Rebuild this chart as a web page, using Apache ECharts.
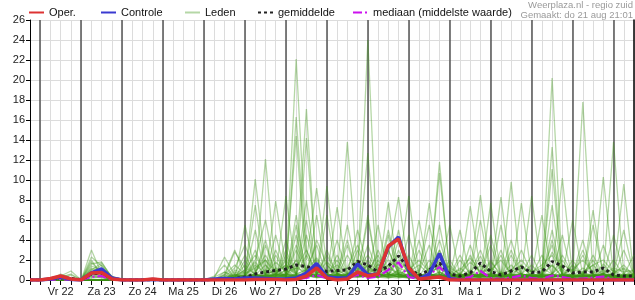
<!DOCTYPE html>
<html><head><meta charset="utf-8">
<script src="https://cdn.jsdelivr.net/npm/echarts@6/dist/echarts.min.js"></script>
<style>html,body{margin:0;padding:0;background:#fff}#c{width:635px;height:300px}</style>
</head><body><div id="c"></div>
<script>
// Day labels (placed at noon of each day); x steps are 6 hours, starting Thu 21 Aug 18:00
const dayLabels = ['Vr 22','Za 23','Zo 24','Ma 25','Di 26','Wo 27','Do 28','Vr 29','Za 30','Zo 31','Ma 1','Di 2','Wo 3','Do 4'];
const yTicks = [0,2,4,6,8,10,12,14,16,18,20,22,24,26];

const oper = [0, 0,0.15,0.4,0.1, 0,0.7,0.75,0.1, 0,0,0,0.1, 0,0,0,0, 0,0,0,0, 0,0.05,0.05,0.05, 0,0.05,0.4,1.2, 0.2,0,0.1,0.8, 0.4,0.6,3.4,4.1, 1.2,0.1,0.2,0.3, 0,0,0,0, 0,0,0,0, 0,0,0,0, 0,0,0,0, 0,0,0];
const controle = [0, 0,0.1,0.3,0.05, 0,0.7,1.1,0.2, 0,0,0,0.05, 0,0,0,0, 0,0.1,0.15,0.1, 0.2,0.2,0.15,0.1, 0.1,0.2,0.7,1.65, 0.3,0.2,0.2,1.6, 0.5,0.6,3.3,4.3, 1.0,0.1,0.6,2.65, 0.1,0,0,0, 0,0,0,0, 0,0,0,0, 0,0,0,0, 0,0,0];
const gemiddelde = [0, 0,0.1,0.25,0.15, 0.05,0.6,0.7,0.2, 0.02,0,0,0, 0,0,0,0, 0,0.03,0.1,0.15, 0.3,0.6,0.8,0.95, 1.1,1.5,1.35,1.1, 0.85,0.95,1.0,1.85, 1.5,0.8,1.4,2.4, 1.2,0.45,1.0,1.7, 0.6,0.4,0.7,1.7, 0.85,0.5,0.9,1.3, 0.75,0.8,1.85,1.4, 0.7,0.8,0.8,1.2, 0.5,0.4,0.4];
const mediaan = [0, 0,0,0.1,0, 0,0.3,0.4,0, 0,0,0,0, 0,0,0,0, 0,0,0,0, 0.05,0.1,0.1,0.1, 0.1,0.1,0.2,0.5, 0.15,0.1,0.2,0.5, 0.2,0.35,1.0,1.75, 0.3,0.1,0.5,1.3, 0.2,0.1,0.3,0.9, 0.2,0.1,0.25,0.45, 0.2,0.1,0.45,0.3, 0.1,0.15,0.25,0.35, 0.1,0.1,0.05];

const m01 = [0, 0,0,0,0, 0,3.0,0.6,0, 0,0,0,0, 0,0,0,0, 0,0,0.3,1.2, 3.5,0.8,2.0,0.4, 1.0,22.1,3.0,0.5, 0.2,1.0,0.4,2.0, 0.8,0.2,1.5,0.6, 0.3,0,1.2,3.0, 0.5,0,0.6,2.4, 0.2,0,0.8,1.5, 0.3,0.4,2.8,1.0, 0.2,0.5,0.3,1.6, 0.4,0.2,0];
const m02 = [0, 0,0.1,0.6,0.2, 0,2.3,1.4,0.1, 0,0,0,0, 0,0,0,0, 0,0.2,2.3,0.5, 0.3,10.1,1.5,0.2, 0.6,16.3,2.0,9.2, 1.5,0.3,0.2,0.6, 24.0,1.0,0.4,2.0, 0.8,0.2,0,0.5, 0.3,1.2,0.4,0.2, 1.8,0.6,0.2,0.4, 0.2,0.6,1.5,0.3, 0.4,1.2,0.6,0.2, 0.8,0.3,0.1];
const m03 = [0, 0,0,0,0, 0,1.6,1.8,0.2, 0,0,0,0, 0,0,0,0, 0,0,0.4,2.8, 1.2,0.6,12.1,0.8, 0.4,2.0,17.1,0.6, 0.3,0.5,1.2,0.4, 0.6,0.2,2.4,8.3, 1.0,0.2,0.6,1.4, 0.2,0.6,7.4,1.0, 0.3,0.8,0.2,0.6, 0.4,0.2,20.2,0.8, 0.3,0.6,1.5,0.4, 0.6,1.1,0.3];
const m04 = [0, 0,0,0.4,0.9, 0,1.2,0.9,0, 0,0,0,0, 0,0,0,0, 0,0,0,0.6, 0.4,1.8,0.5,7.9, 1.2,14.4,0.8,0.3, 9.4,0.6,0.2,0.8, 0.4,1.6,0.6,0.3, 0.2,0.5,7.7,0.6, 0.1,0.4,0.8,8.5, 0.6,0.3,0.5,0.2, 1.0,0.5,13.3,0.4, 0.2,0.7,0.3,0.5, 13.8,0.6,0.2];
const m05 = [0, 0,0,0,0, 0.1,0.8,1.5,0.3, 0,0,0,0, 0,0,0,0, 0,0.3,0.8,0.2, 0.6,0.3,1.0,0.5, 8.4,0.5,14.2,1.0, 0.4,7.3,0.6,1.5, 12.7,0.5,0.3,1.0, 8.4,0.6,0.2,11.8, 0.5,0.2,0.4,0.3, 7.7,0.4,0.6,0.3, 0.2,0.3,0.6,10.2, 0.5,0.2,0.6,0.3, 0.4,0.2,0.6];
const m06 = [0, 0,0,0,0, 0,2.0,0.5,0, 0,0,0,0, 0,0,0,0, 0,0,0,0.3, 0.8,0.4,0.3,1.2, 0.5,3.0,0.6,0.4, 0.3,0.2,13.8,0.6, 1.5,0.4,7.8,0.5, 0.3,0.2,0.4,10.7, 1.0,0.3,0.2,0.6, 0.4,8.3,0.2,0.5, 0.3,0.6,11.1,0.4, 0.2,17.8,0.4,0.6, 0.3,0.2,0.5];
const m07 = [0, 0,0,0,0, 0,0.5,1.2,0.4, 0,0,0,0, 0,0,0,0, 0,0,0.2,0.4, 0.3,0.5,0.2,0.6, 0.4,1.2,0.8,0.3, 0.6,0.4,0.3,0.5, 0.3,0.8,0.2,0.4, 0.2,0.6,0.3,0.8, 0.2,0.3,0.5,0.2, 0.4,0.2,9.8,0.3, 0.5,0.4,0.2,0.6, 0.3,0.4,0.2,10.3, 0.5,9.6,0.3];
const m08 = [0, 0,0.2,0.5,0.1, 0,0.9,0.6,0.1, 0,0,0,0, 0,0,0,0, 0,0.4,1.5,0.2, 5.5,0.8,2.5,0.6, 1.5,0.4,4.5,0.8, 0.3,2.5,0.6,5.0, 1.2,0.5,3.0,0.6, 0.4,1.0,5.5,0.8, 0.3,2.0,0.6,0.4, 4.5,0.5,0.3,1.5, 0.4,0.8,3.5,0.5, 0.3,0.6,2.0,0.4, 0.3,3.0,0.5];
const m09 = [0, 0,0,0,0, 0,0.4,0.7,0, 0,0,0,0, 0,0,0,0, 0,0,0.6,3.0, 0.5,7.5,0.8,0.3, 2.5,0.6,1.0,3.5, 0.4,0.8,4.0,0.3, 6.0,0.4,0.8,0.5, 2.5,0.3,0.6,4.0, 0.5,0.3,3.5,0.4, 0.6,2.5,0.3,7.7, 0.4,0.3,0.6,2.0, 0.5,4.0,0.3,0.6, 0.3,0.5,2.5];
const m10 = [0, 0,0,0,0, 0,1.4,1.0,0.2, 0,0,0,0, 0,0,0,0, 0,0,0,0.8, 0.5,2.0,6.0,1.0, 0.4,5.5,0.8,0.3, 3.0,0.5,0.4,1.5, 0.5,5.5,0.4,1.0, 0.3,4.0,0.6,0.3, 2.0,0.4,0.3,0.6, 0.3,0.6,4.0,0.5, 8.4,0.5,0.3,1.2, 0.4,0.3,5.5,0.6, 1.0,0.4,0.3];
const m11 = [0, 0,0,0,0, 0,0.3,0.4,0, 0,0,0,0, 0,0,0,0, 0,0,0,0, 0.4,0.3,0.5,3.0, 0.6,0.4,8.0,0.5, 0.3,1.0,0.5,0.4, 3.5,0.6,0.3,0.8, 0.5,0.3,2.0,0.6, 0.4,5.0,0.3,0.6, 0.3,0.4,0.6,3.0, 0.6,0.3,5.0,0.4, 0.3,0.8,0.4,0.3, 4.5,0.6,0.3];
const m12 = [0, 0,0,0,0, 0,0.6,0.3,0, 0,0,0,0, 0,0,0,0, 0,0,0.3,0.2, 2.0,0.4,0.3,0.6, 0.3,6.5,0.4,2.0, 0.5,0.3,2.5,0.6, 0.4,3.0,0.5,0.3, 0.6,0.3,0.4,5.5, 0.3,0.5,0.4,0.3, 0.6,0.3,2.5,0.4, 0.3,6.5,0.4,0.3, 2.0,0.4,0.3,0.5, 0.3,0.4,0.6];
const m13 = [0, 0,0,0,0, 0,0,0,0, 0,0,0,0, 0,0,0,0, 0,0,0,0.4, 0.3,0.6,4.0,0.4, 1.0,0.3,0.5,0.4, 6.5,0.4,0.3,0.6, 0.4,0.3,1.0,5.0, 0.3,0.6,0.2,0.4, 0.3,0.2,0.6,0.4, 0.3,5.5,0.4,0.3, 0.5,0.3,0.4,0.3, 0.6,0.3,7.0,0.4, 0.3,0.2,0.4];
const m14 = [0, 0,0,0.3,0.6, 0,0.7,0.5,0, 0,0,0,0, 0,0,0,0, 0,0,0,0, 0.2,0.3,0.4,0.2, 0.3,0.4,0.5,0.2, 0.4,0.3,0.6,0.8, 0.5,0.3,0.4,0.6, 0.2,0.3,0.5,0.4, 0.2,0.3,0.2,0.4, 0.3,0.2,0.5,0.3, 0.2,0.4,0.3,0.5, 0.2,0.3,0.4,0.3, 0.2,0.3,0.2];
const m15 = [0, 0,0,0,0, 0,0.2,0.3,0, 0,0,0,0, 0,0,0,0, 0,0,0.5,0.3, 1.0,0.4,0.3,2.5, 0.5,0.3,0.4,6.5, 0.3,0.5,0.4,0.3, 0.4,2.0,0.6,0.3, 0.5,0.4,0.3,2.5, 0.4,0.6,0.3,0.4, 2.0,0.3,0.4,0.3, 0.4,0.3,0.5,4.5, 0.3,0.4,0.3,0.6, 0.4,0.3,0.5];
const m16 = [0, 0,0,0,0, 0,0,0,0, 0,0,0,0, 0,0,0,0, 0,0,0,0, 0,0.3,0.5,0.3, 4.0,0.5,0.3,0.6, 0.3,0.6,0.4,3.0, 0.6,0.3,4.5,0.4, 0.3,0.6,0.3,0.4, 0.3,0.4,0.6,3.0, 0.4,0.3,0.2,0.4, 0.3,0.5,0.3,0.4, 0.5,0.3,0.4,0.2, 0.3,0.4,0.3];
const m17 = [0, 0,0,0,0, 0,1.0,1.7,0.3, 0,0,0,0, 0,0,0,0, 0,0,0,0.2, 0.3,0.5,0.2,0.4, 0.3,0.6,2.5,0.4, 0.5,0.3,0.6,0.4, 0.3,0.5,0.4,2.5, 0.6,0.3,0.4,0.5, 0.3,0.5,0.4,1.5, 0.3,0.4,0.2,0.5, 2.5,0.3,0.4,0.3, 0.4,0.3,0.5,0.4, 0.3,0.5,0.3];
const m18 = [0, 0,0,0,0, 0,0,0,0, 0,0,0,0, 0,0,0,0, 0,0,0.2,0, 0.2,0.4,0.3,0.5, 0.3,0.2,0.4,0.3, 0.2,0.5,0.3,0.4, 0.4,0.3,0.2,0.6, 0.3,0.2,0.5,0.3, 0.2,0.3,0.4,0.2, 0.3,0.5,0.3,0.2, 0.4,0.2,0.3,0.5, 0.3,0.2,0.4,0.3, 0.2,0.3,0.2];
const m19 = [0, 0,0,0,0, 0,0.5,0.8,0.1, 0,0,0,0, 0,0,0,0, 0,0,0,0.5, 0.4,0.3,0.6,0.3, 0.5,1.5,0.4,0.3, 0.4,0.3,0.5,1.2, 0.3,0.4,0.6,0.3, 1.5,0.4,0.3,0.5, 0.3,0.4,1.0,0.3, 0.4,0.3,0.5,0.6, 0.3,0.4,1.5,0.3, 0.4,0.5,0.3,1.0, 0.3,0.4,0.3];
const m20 = [0, 0,0,0,0, 0,0,0,0, 0,0,0,0, 0,0,0,0, 0,0,0,0, 0.5,0.3,0.4,0.2, 0.4,0.3,0.6,0.5, 0.3,0.4,0.3,0.5, 0.6,0.4,0.3,0.2, 0.4,0.3,0.5,0.6, 0.3,0.2,0.3,0.5, 0.4,0.3,0.4,0.3, 0.5,0.3,0.4,0.6, 0.3,0.4,0.3,0.5, 0.4,0.3,0.4];
const m21 = [0, 0,0,0,0, 0,0.8,0.4,0, 0,0,0,0, 0,0,0,0, 0,0,0.5,1.5, 0.6,3.0,0.5,1.0, 0.4,2.0,0.6,4.0, 1.5,0.5,3.5,0.4, 2.0,0.6,5.0,0.8, 0.4,3.0,0.5,1.5, 0.6,0.3,2.5,0.5, 3.5,0.4,1.0,0.6, 0.4,2.5,0.6,0.3, 1.5,0.5,0.4,3.5, 0.6,1.5,0.4];
const m22 = [0, 0,0,0,0, 0,0,0,0, 0,0,0,0, 0,0,0,0, 0,0,0,0.3, 1.5,0.5,3.5,0.6, 2.0,0.5,0.8,1.5, 0.4,4.0,0.6,0.5, 0.8,2.5,0.4,3.0, 0.5,0.8,3.5,0.4, 1.5,0.4,0.6,0.5, 0.5,3.0,0.4,0.6, 1.5,0.4,4.0,0.5, 0.5,2.5,0.4,0.6, 2.0,0.5,0.3];
const m23 = [0, 0,0,0,0, 0,1.8,0.6,0, 0,0,0,0, 0,0,0,0, 0,0,0.3,0.5, 0.4,1.5,0.6,4.5, 0.5,3.5,1.0,0.5, 2.5,0.6,0.4,2.0, 0.5,0.4,3.0,0.6, 4.5,0.5,0.4,0.8, 0.4,2.5,0.5,0.3, 0.6,0.4,3.0,0.5, 0.4,0.6,0.5,2.5, 0.6,3.0,0.5,0.4, 0.5,0.4,1.0];
const m24 = [0, 0,0,0,0, 0,0,0,0, 0,0,0,0, 0,0,0,0, 0,0,0,0, 0.3,0.6,0.4,0.5, 3.0,0.6,0.4,0.8, 0.5,2.0,0.4,0.6, 0.4,0.6,1.5,0.4, 0.6,0.4,0.3,3.0, 0.5,0.4,0.6,0.4, 0.3,0.5,1.5,0.4, 0.5,0.4,0.3,0.6, 0.4,0.3,2.5,0.5, 0.4,0.6,0.5];
const m25 = [0, 0,0.1,0.3,0.5, 0,0,0,0, 0,0,0,0, 0,0,0,0, 0,0,0,0.2, 0.3,0.5,1.5,0.4, 0.6,0.4,0.5,0.3, 0.4,0.6,0.3,0.5, 1.5,0.4,0.6,0.3, 0.4,0.5,0.6,0.4, 0.3,0.5,0.4,0.6, 0.4,0.6,0.3,0.4, 0.6,0.3,0.5,0.4, 0.3,0.5,0.4,0.6, 0.3,0.4,0.5];
const m26 = [0, 0,0,0,0, 0,0.4,0.2,0, 0,0,0,0, 0,0,0,0, 0,0,0,0, 0.4,0.3,0.5,0.4, 0.3,0.5,0.4,0.6, 0.5,0.3,0.4,0.3, 0.4,0.6,0.3,0.4, 0.3,0.4,0.5,0.3, 0.4,0.3,0.5,0.4, 0.3,0.4,0.3,0.5, 0.4,0.5,0.3,0.4, 0.5,0.3,0.4,0.3, 0.4,0.3,0.4];
const m27 = [0, 0,0,0,0, 0,0,0,0, 0,0,0,0, 0,0,0,0, 0,0,0,0.6, 2.5,0.5,0.4,0.6, 0.5,4.5,0.6,0.4, 0.6,0.4,5.5,0.5, 0.4,0.6,0.5,4.0, 0.6,0.5,0.4,0.6, 5.5,0.4,0.6,0.5, 0.4,0.6,0.5,0.4, 0.6,0.4,7.5,0.6, 0.4,0.6,0.5,0.4, 0.6,5.0,0.4];
const m28 = [0, 0,0,0,0, 0,0.6,1.0,0.2, 0,0,0,0, 0,0,0,0, 0,0,0,0, 0.3,0.5,0.4,0.6, 0.5,0.4,0.6,0.5, 0.4,0.6,0.5,0.4, 0.6,0.4,0.5,0.6, 0.4,0.5,0.6,0.4, 0.5,0.6,0.4,0.5, 0.6,0.4,0.5,0.6, 0.4,0.5,0.6,0.4, 0.5,0.4,0.6,0.5, 0.4,0.5,0.6];
const m29 = [0, 0,0,0,0, 0,0,0,0, 0,0,0,0, 0,0,0,0, 0,0,0,0.3, 0.4,5.0,0.5,0.3, 0.6,0.5,6.0,0.4, 0.5,0.4,0.6,0.5, 6.5,0.4,0.6,0.5, 0.4,6.0,0.5,0.4, 0.6,0.5,0.4,6.0, 0.5,0.4,0.6,0.5, 0.4,0.6,0.5,0.4, 6.0,0.5,0.4,0.6, 0.5,0.4,0.6];
const m30 = [0, 0,0,0,0, 0,0,0,0, 0,0,0,0, 0,0,0,0, 0,0,0,0, 0.2,0.4,0.3,0.5, 0.4,0.3,0.5,0.4, 0.3,0.5,0.4,0.3, 0.5,0.3,0.4,0.5, 0.3,0.4,0.3,0.5, 0.4,0.3,0.5,0.3, 0.5,0.3,0.4,0.3, 0.3,0.4,0.5,0.3, 0.4,0.5,0.3,0.4, 0.3,0.5,0.4];
const m31 = [0, 0,0,0,0, 0,0,0,0, 0,0,0,0, 0,0,0,0, 0,0,0.8,0.4, 1.0,2.5,0.6,1.8, 0.8,1.2,3.0,0.6, 1.8,0.8,1.2,3.5, 1.0,0.6,2.0,1.2, 0.8,1.5,0.6,2.0, 1.2,0.6,1.8,0.8, 1.0,2.0,0.6,1.2, 0.8,1.5,2.5,0.6, 1.0,0.8,1.5,2.0, 0.8,1.2,0.6];
const m32 = [0, 0,0,0,0, 0,1.1,0.7,0, 0,0,0,0, 0,0,0,0, 0,0,0,1.0, 0.6,1.2,2.0,0.8, 1.5,0.6,1.0,2.2, 0.8,1.5,0.6,1.0, 2.5,0.8,1.2,0.6, 1.0,2.0,0.8,1.2, 0.6,1.0,2.2,0.8, 1.2,0.6,1.0,2.0, 0.8,1.2,0.6,1.5, 1.0,2.0,0.8,0.6, 1.2,0.8,1.0];
const leden = [m01,m02,m03,m04,m05,m06,m07,m08,m09,m10,m11,m12,m13,m14,m15,m16,m17,m18,m19,m20,m21,m22,m23,m24,m25,m26,m27,m28,m29,m30,m31,m32];

const N = oper.length;
const steps = Array.from({length: N}, (_, i) => String(i));
const isNoon = i => i % 4 === 3 && (i - 3) / 4 < dayLabels.length;
const FONT = '"Liberation Sans", Arial, sans-serif';
const MEMBER = 'rgba(60,150,20,0.38)';

const series = [];
leden.forEach(arr => series.push({
  name: 'Leden', type: 'line', data: arr, symbol: 'none', silent: true,
  lineStyle: { color: MEMBER, width: 1.3 }, itemStyle: { color: MEMBER },
  z: 2
}));
series.push({ name: 'mediaan (middelste waarde)', type: 'line', data: mediaan, symbol: 'none',
  lineStyle: { color: '#cc11ee', width: 2.2, type: [9, 3, 2, 3] }, itemStyle: { color: '#cc11ee' }, z: 3 });
series.push({ name: 'gemiddelde', type: 'line', data: gemiddelde, symbol: 'none',
  lineStyle: { color: '#222', width: 3, type: [3, 3] }, itemStyle: { color: '#222' }, z: 4 });
series.push({ name: 'Controle', type: 'line', data: controle, symbol: 'none',
  lineStyle: { color: '#3a3ad0', width: 3.5 }, itemStyle: { color: '#3a3ad0' }, z: 5 });
series.push({ name: 'Oper.', type: 'line', data: oper, symbol: 'none',
  lineStyle: { color: '#dd3333', width: 3.5 }, itemStyle: { color: '#dd3333' }, z: 6 });

function lg(name, left) {
  return { data: [name], left: left, top: 7, itemWidth: 15, itemHeight: 8, itemGap: 0, padding: 0,
    selectedMode: false, itemStyle: { opacity: 0 },
    textStyle: { fontSize: 11, color: '#111', fontFamily: FONT } };
}

const chart = echarts.init(document.getElementById('c'), null, { renderer: 'canvas' });
chart.setOption({
  animation: false,
  backgroundColor: '#fff',
  textStyle: { fontFamily: FONT },
  legend: [lg('Oper.', 28), lg('Controle', 100), lg('Leden', 184), lg('gemiddelde', 257), lg('mediaan (middelste waarde)', 352)],
  graphic: [
    { type: 'text', right: 2, top: 0, style: { text: 'Weerplaza.nl - regio zuid', fill: '#9a9a9a', font: '9.5px ' + FONT } },
    { type: 'text', right: 2, top: 10, style: { text: 'Gemaakt: do 21 aug 21:01', fill: '#9a9a9a', font: '9.5px ' + FONT } }
  ],
  grid: { left: 30, right: 1, top: 20, bottom: 20, containLabel: false },
  xAxis: [
    { type: 'category', data: steps, boundaryGap: false, position: 'bottom',
      axisLine: { show: true, lineStyle: { color: '#000', width: 1 } },
      axisTick: { show: true, inside: false, length: 5, interval: 0, lineStyle: { color: '#000' } },
      axisLabel: { interval: (i) => isNoon(i), formatter: (v, i) => isNoon(+v) ? dayLabels[(+v - 3) / 4] : '',
        color: '#222', fontSize: 11, margin: 6, fontFamily: FONT },
      splitLine: { show: true, interval: 0, lineStyle: { color: '#dcdcdc', width: 1 } } },
    { type: 'category', data: steps, boundaryGap: false, position: 'top',
      axisLine: { show: true, lineStyle: { color: '#000', width: 1 } },
      axisTick: { show: true, inside: true, length: 5, interval: 0, lineStyle: { color: '#000' } },
      axisLabel: { show: false },
      splitLine: { show: true, interval: (i) => i % 4 === 1, lineStyle: { color: '#555', width: 1.5 } } }
  ],
  yAxis: [
    { type: 'value', min: yTicks[0], max: yTicks[yTicks.length - 1], interval: 2,
      axisLine: { show: true, lineStyle: { color: '#000', width: 1 } },
      axisTick: { show: true, length: 4, lineStyle: { color: '#000' } },
      axisLabel: { color: '#222', fontSize: 11, margin: 5, fontFamily: FONT },
      splitLine: { show: true, lineStyle: { color: '#dcdcdc', width: 1 } } },
    { type: 'value', min: 0, max: 26, interval: 2, position: 'right',
      axisLine: { show: true, lineStyle: { color: '#000', width: 1.5 } },
      axisTick: { show: false }, axisLabel: { show: false }, splitLine: { show: false } }
  ],
  series: series
});
</script></body></html>
